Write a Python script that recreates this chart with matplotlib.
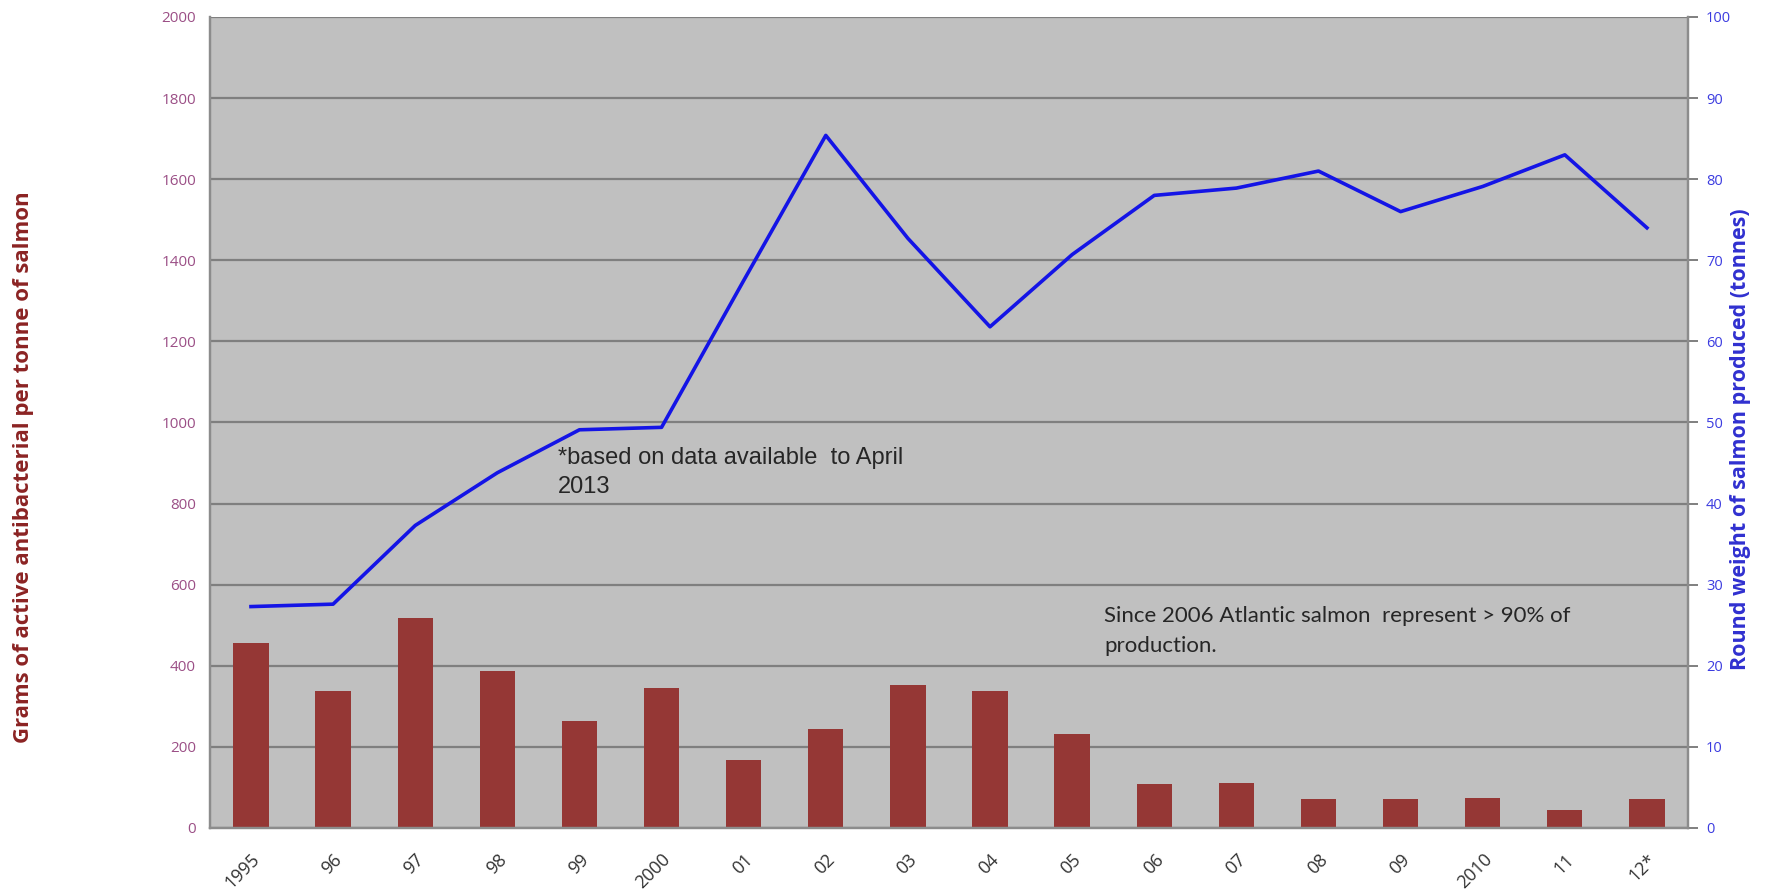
import numpy as np
import matplotlib.pyplot as plt

# categories (years) and the two series
years = ['1995', '96', '97', '98', '99', '2000', '01', '02', '03', '04',
         '05', '06', '07', '08', '09', '2010', '11', '12*']
grams_per_tonne = [455, 337, 518, 386, 263, 345, 167, 244, 353, 337,
                   231, 108, 112, 71, 71, 75, 45, 71]
round_weight = [27.3, 27.6, 37.3, 43.8, 49.1, 49.4, 67.5, 85.4, 72.7, 61.8,
                70.7, 78.0, 78.9, 81.0, 76.0, 79.1, 83.0, 74.0]

left_ticks = np.arange(0, 2001, 200)
right_ticks = np.arange(0, 101, 10)

x = np.arange(len(years))

fig = plt.figure(figsize=(17.67, 8.93), dpi=100)
ax = fig.add_axes([0.1188, 0.0728, 0.8365, 0.9082])
ax2 = ax.twinx()

ax.set_facecolor('#C0C0C0')
ax.set_axisbelow(True)
ax.bar(x, grams_per_tonne, width=0.43, color='#953735', zorder=2)
ax2.plot(x, round_weight, color='#1414E6', linewidth=2.6, zorder=3)

ax.set_xlim(-0.5, len(years) - 0.5)
ax.set_ylim(0, 2000)
ax2.set_ylim(0, 100)
ax.set_yticks(left_ticks)
ax2.set_yticks(right_ticks)
ax.yaxis.grid(True, color='#7F7F7F', linewidth=1.6)

ax.set_xticks(x)
ax.set_xticklabels(years, rotation=45, ha='right', rotation_mode='anchor',
                   fontsize=13, family='Open Sans', color='#333333')
ax.tick_params(axis='x', length=0, pad=16)
ax.tick_params(axis='y', length=0, pad=10, labelsize=11, labelcolor='#9B4F86')
for lab in ax.get_yticklabels():
    lab.set_family('Open Sans')
ax2.tick_params(axis='y', length=7, width=1.4, color='#7F7F7F', pad=6,
                labelsize=10.5, labelcolor='#3C3CE0')
for lab in ax2.get_yticklabels():
    lab.set_family('Open Sans')

for a in (ax, ax2):
    a.spines['top'].set_visible(False)
    for s in ('left', 'right', 'bottom'):
        a.spines[s].set_color('#8C8C8C')
        a.spines[s].set_linewidth(1.6)

fig.text(0.0135, 0.477, 'Grams of active antibacterial per tonne of salmon',
         rotation=90, ha='center', va='center', fontsize=16,
         fontweight='bold', family='Open Sans', color='#8B2323')
fig.text(0.985, 0.508, 'Round weight of salmon produced (tonnes)',
         rotation=90, ha='center', va='center', fontsize=15.5,
         fontweight='bold', family='Open Sans', color='#3030D0')

ax.text(0.2355, 0.47, '*based on data available  to April\n2013',
        transform=ax.transAxes, ha='left', va='top', fontsize=17,
        family='Liberation Sans', color='#262626', linespacing=1.4)
ax.text(0.605, 0.274, 'Since 2006 Atlantic salmon  represent > 90% of\nproduction.',
        transform=ax.transAxes, ha='left', va='top', fontsize=16,
        family='Lato', color='#262626', linespacing=1.65)

fig.savefig('out.png', dpi=100)
